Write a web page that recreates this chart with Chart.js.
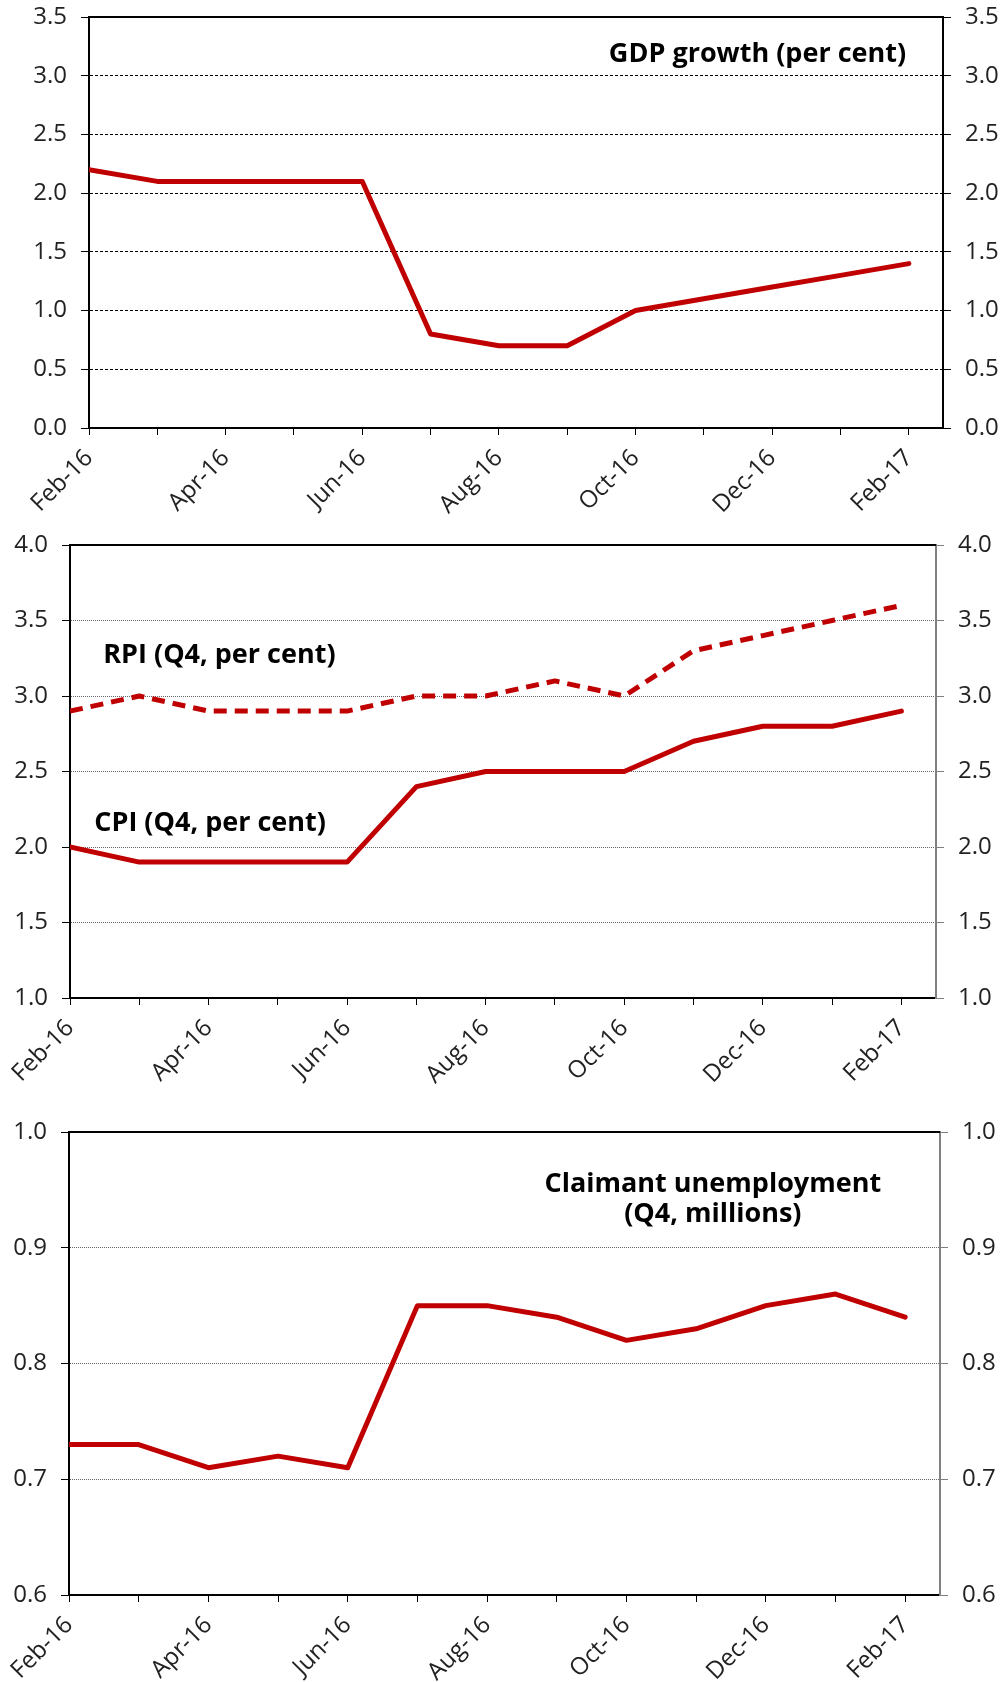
<!DOCTYPE html>
<html>
<head>
<meta charset="utf-8">
<script src="https://cdn.jsdelivr.net/npm/chart.js@4.4.1/dist/chart.umd.min.js"></script>
<style>
  html, body { margin: 0; padding: 0; background: #fff; }
  canvas { position: absolute; left: 0; }
</style>
</head>
<body>
<canvas id="gdp" width="1005" height="540" style="top:0px"></canvas>
<canvas id="prices" width="1005" height="580" style="top:515px"></canvas>
<canvas id="claimant" width="1005" height="582" style="top:1100px"></canvas>
<script>
// monthly forecasts, Feb-16 .. Feb-17
const months = ['Feb-16', 'Mar-16', 'Apr-16', 'May-16', 'Jun-16', 'Jul-16', 'Aug-16',
                'Sep-16', 'Oct-16', 'Nov-16', 'Dec-16', 'Jan-17', 'Feb-17'];
const gdpGrowth = [2.2, 2.1, 2.1, 2.1, 2.1, 0.8, 0.7, 0.7, 1.0, 1.1, 1.2, 1.3, 1.4];
const rpi = [2.9, 3.0, 2.9, 2.9, 2.9, 3.0, 3.0, 3.1, 3.0, 3.3, 3.4, 3.5, 3.6];
const cpi = [2.0, 1.9, 1.9, 1.9, 1.9, 2.4, 2.5, 2.5, 2.5, 2.7, 2.8, 2.8, 2.9];
const claimant = [0.73, 0.73, 0.71, 0.72, 0.71, 0.85, 0.85, 0.84, 0.82, 0.83, 0.85, 0.86, 0.84];

const RED = '#c00000';
const FONT = '"Open Sans", "Noto Sans", sans-serif';
Chart.defaults.font.family = FONT;
Chart.defaults.font.size = 24;
Chart.defaults.color = '#222';

const points = arr => arr.map((v, i) => ({ x: i, y: v }));

// top border + text labels inside the plot
const frame = {
  id: 'frame',
  afterDraw(chart, args, opts) {
    const { ctx, chartArea: a, scales } = chart;
    ctx.save();
    ctx.strokeStyle = '#000';
    ctx.lineWidth = 2;
    ctx.beginPath();
    ctx.moveTo(a.left - 1, a.top);
    ctx.lineTo(a.right, a.top);
    ctx.stroke();
    ctx.font = 'bold 27px ' + FONT;
    ctx.fillStyle = '#000';
    ctx.textBaseline = 'middle';
    (opts.notes || []).forEach(n => {
      ctx.textAlign = n.align;
      ctx.fillText(n.text, scales.x.getPixelForValue(n.x), scales.y.getPixelForValue(n.y));
    });
    ctx.restore();
  }
};

// fixed axis size, no extra room for label overhang
const fixSize = (prop, size) => s => {
  s[prop] = size;
  s.paddingTop = s.paddingBottom = s.paddingLeft = s.paddingRight = 0;
};

function makeChart(id, o) {
  const yTicks = {
    stepSize: o.step,
    padding: 14,
    callback: v => v.toFixed(1)
  };
  return new Chart(document.getElementById(id), {
    type: 'line',
    data: { datasets: o.datasets },
    plugins: [frame],
    options: {
      responsive: false,
      animation: false,
      devicePixelRatio: 1,
      layout: { padding: { top: o.top, left: 0, right: 0, bottom: 0 } },
      elements: {
        point: { radius: 0 },
        line: { tension: 0, borderWidth: 5, borderCapStyle: 'round', borderJoinStyle: 'round' }
      },
      plugins: {
        legend: { display: false },
        tooltip: { enabled: false },
        frame: { notes: o.notes }
      },
      scales: {
        x: {
          type: 'linear',
          min: 0,
          max: 12.5,
          afterBuildTicks: s => { s.ticks = months.map((m, i) => ({ value: i })); },
          afterFit: fixSize('height', o.xHeight),
          ticks: {
            autoSkip: false,
            minRotation: 45,
            maxRotation: 45,
            padding: 9,
            callback: v => (v % 2 === 0 ? months[v] : '')
          },
          grid: { drawOnChartArea: false, tickLength: 7, tickColor: '#000', tickWidth: 1 },
          border: { color: '#000', width: 2 }
        },
        y: {
          position: 'left',
          min: o.min,
          max: o.max,
          ticks: yTicks,
          afterFit: fixSize('width', o.left),
          grid: {
            color: o.gridColor,
            lineWidth: 1,
            tickLength: 8,
            tickColor: '#000',
            tickBorderDash: [],
            tickWidth: 1
          },
          border: { color: '#000', width: 2, dash: o.gridDash }
        },
        y2: {
          position: 'right',
          min: o.min,
          max: o.max,
          ticks: yTicks,
          afterFit: fixSize('width', o.right),
          grid: { drawOnChartArea: false, tickLength: 8, tickColor: o.rightColor, tickWidth: 1 },
          border: { color: o.rightColor, width: 2 }
        }
      }
    }
  });
}

makeChart('gdp', {
  top: 17, left: 89, right: 62, xHeight: 112,
  min: 0, max: 3.5, step: 0.5,
  gridColor: '#000', gridDash: [3, 2], rightColor: '#000',
  datasets: [{ label: 'GDP growth', data: points(gdpGrowth), borderColor: RED }],
  notes: [{ text: 'GDP growth (per cent)', x: 11.96, y: 3.18, align: 'right' }]
});

makeChart('prices', {
  top: 30, left: 70, right: 69, xHeight: 97,
  min: 1, max: 4, step: 0.5,
  gridColor: '#666', gridDash: [1, 1], rightColor: '#808080',
  datasets: [
    { label: 'RPI', data: points(rpi), borderColor: RED, borderDash: [13, 8], borderCapStyle: 'butt' },
    { label: 'CPI', data: points(cpi), borderColor: RED }
  ],
  notes: [
    { text: 'RPI (Q4, per cent)', x: 0.48, y: 3.27, align: 'left' },
    { text: 'CPI (Q4, per cent)', x: 0.35, y: 2.157, align: 'left' }
  ]
});

makeChart('claimant', {
  top: 32, left: 69, right: 65, xHeight: 87,
  min: 0.6, max: 1.0, step: 0.1,
  gridColor: '#666', gridDash: [1, 1], rightColor: '#808080',
  datasets: [{ label: 'Claimant unemployment', data: points(claimant), borderColor: RED }],
  notes: [
    { text: 'Claimant unemployment', x: 9.24, y: 0.9545, align: 'center' },
    { text: '(Q4, millions)', x: 9.24, y: 0.9286, align: 'center' }
  ]
});
</script>
</body>
</html>
